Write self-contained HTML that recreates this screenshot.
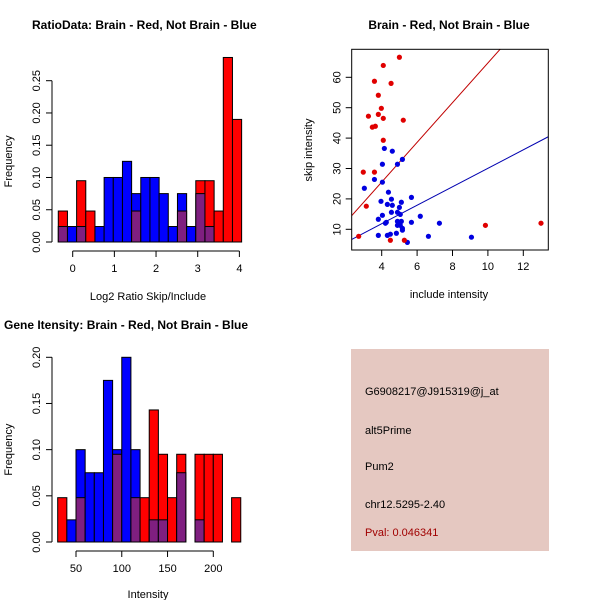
<!DOCTYPE html>
<html><head><meta charset="utf-8"><style>
html,body{margin:0;padding:0;background:#fff}
svg{display:block;font-family:"Liberation Sans",sans-serif}
</style></head><body>
<svg id="chart" width="600" height="600" viewBox="0 0 600 600">
<rect x="0" y="0" width="600" height="600" fill="#fff"/>
<g id="p1"></g>
<g id="p2"></g>
<g id="p3"></g>
<g id="p4">
<rect x="351" y="349" width="198" height="202" fill="#e5c8c1"/>
<text x="365" y="395" font-size="11" fill="#000">G6908217@J915319@j_at</text>
<text x="365" y="434" font-size="11" fill="#000">alt5Prime</text>
<text x="365" y="470" font-size="11" fill="#000">Pum2</text>
<text x="365" y="508" font-size="11" fill="#000">chr12.5295-2.40</text>
<text x="365" y="536" font-size="11" fill="#a00000">Pval: 0.046341</text>
</g>
</svg>
<script>
// Histogram 1 data (Log2 ratio)
const h1Start = -0.346, h1Width = 0.22;
const h1Red  = [0.048,0,0.095,0.048,0,0,0,0,0.048,0,0,0,0,0.048,0,0.095,0.095,0.048,0.286,0.19];
const h1Blue = [0.024,0.024,0.024,0,0.024,0.1,0.1,0.125,0.075,0.1,0.1,0.075,0.024,0.075,0.024,0.075,0.024,0,0,0];
const h1XTicks = [0,1,2,3,4];
const h1YTicks = ["0.00","0.05","0.10","0.15","0.20","0.25"];
// Histogram 3 data (Intensity)
const h3Start = 30, h3Width = 10;
const h3Red  = [0.048,0,0.048,0,0,0,0.095,0,0.048,0.048,0.143,0.095,0.048,0.095,0,0.095,0.095,0.095,0,0.048];
const h3Blue = [0,0.024,0.1,0.075,0.075,0.175,0.1,0.2,0.1,0,0.024,0.024,0,0.075,0,0.024,0,0,0,0];
const h3XTicks = [50,100,150,200];
const h3YTicks = ["0.00","0.05","0.10","0.15","0.20"];
// Scatter data
const redX = [5.0,4.09,3.59,4.53,3.81,3.98,3.81,3.25,4.09,5.22,3.64,3.47,4.09,2.96,3.59,3.13,2.70,4.49,5.28,9.86,13.0];
const redY = [66.6,63.9,58.7,58.0,54.1,49.8,47.8,47.2,46.5,45.9,43.9,43.6,39.3,28.8,28.8,17.6,7.7,6.4,6.4,11.3,12.0];
const blueX = [4.15,4.60,5.17,4.89,4.04,3.59,4.04,3.02,4.38,4.55,5.68,3.96,5.11,4.32,4.60,5.0,4.55,4.89,5.05,6.18,4.04,3.81,4.89,5.11,4.26,4.21,5.68,7.26,4.89,5.05,5.17,5.17,4.83,3.81,4.32,4.49,6.64,9.07,5.45];
const blueY = [36.6,35.7,33.0,31.4,31.4,26.4,25.5,23.5,22.2,19.9,20.5,19.2,18.9,18.2,17.9,17.2,15.6,15.6,14.9,14.3,14.6,13.3,12.6,12.6,12.3,12.0,12.3,12.0,11.3,11.3,10.3,9.7,8.7,8.0,8.0,8.4,7.7,7.4,5.7];
const redFit = [-0.58, 6.53];   // intercept, slope
const blueFit = [-0.33, 3.04];
const scXTicks = [4,6,8,10,12];
const scYTicks = [10,20,30,40,50,60];

const NS = "http://www.w3.org/2000/svg";
function mk(parent, tag, attrs, text){
  const e = document.createElementNS(NS, tag);
  for (const k in attrs) e.setAttribute(k, attrs[k]);
  if (text !== undefined) e.textContent = text;
  parent.appendChild(e); return e;
}

function histogram(g, start, width, red, blue, xs, ys, xT, yT, title, titleX, titleY, xlab, xlabY, labY0){
  const n = red.length;
  for (let i=0;i<n;i++){
    const x0 = xs(start+i*width), x1 = xs(start+(i+1)*width);
    const r = red[i], b = blue[i], m = Math.min(r,b);
    if (b>0 && b>=r){
      const bb = mk(g,'rect',{x:x0,y:ys(b),width:x1-x0,height:ys(0)-ys(b),fill:'#0000ff',stroke:'#000','stroke-width':1});
      
      
    }
    if (r>0 && r>b){
      const rb = mk(g,'rect',{x:x0,y:ys(r),width:x1-x0,height:ys(0)-ys(r),fill:'#ff0000',stroke:'#000','stroke-width':1});
      
      
    }
    if (m>0){
      const pb = mk(g,'rect',{x:x0,y:ys(m),width:x1-x0,height:ys(0)-ys(m),fill:'#7f1f80',stroke:'#000','stroke-width':1});
      
      
    }
  }
  // y axis
  const yv = yT.map(Number);
  const ya = mk(g,'line',{x1:52,x2:52,y1:ys(yv[0]),y2:ys(yv[yv.length-1]),stroke:'#000'});
  
  
  yT.forEach((t)=>{
    const y = ys(Number(t));
    mk(g,'line',{x1:46,x2:52,y1:y,y2:y,stroke:'#000'});
    const tl = mk(g,'text',{x:40,y:y,'font-size':11,'text-anchor':'middle',transform:`rotate(-90 40 ${y})`},t);
    
    
  });
  // x axis
  const axY = labY0;
  const xa = mk(g,'line',{x1:xs(xT[0]),x2:xs(xT[xT.length-1]),y1:axY,y2:axY,stroke:'#000'});
  
  
  xT.forEach(t=>{
    const x = xs(t);
    mk(g,'line',{x1:x,x2:x,y1:axY,y2:axY+6,stroke:'#000'});
    const tl = mk(g,'text',{x:x,y:axY+21,'font-size':11,'text-anchor':'middle'},String(t));
    
    
  });
  const tt = mk(g,'text',{x:titleX,y:titleY,'font-size':12,'font-weight':'bold'},title);
  
  
  const xl = mk(g,'text',{x:148,y:xlabY,'font-size':11,'text-anchor':'middle'},xlab);
  
  
  const cy = (ys(yv[0])+ys(yv[yv.length-1]))/2;
  const yl = mk(g,'text',{x:12,y:cy,'font-size':11,'text-anchor':'middle',transform:`rotate(-90 12 ${cy})`},'Frequency');
  
  
}

// Plot 1
(function(){
  const g = document.getElementById('p1');
  const xs = v => 72.7 + v*41.67;
  const ys = v => 242 - v*(242-80.7)/0.25;
  histogram(g,h1Start,h1Width,h1Red,h1Blue,xs,ys,h1XTicks,h1YTicks,
    'RatioData: Brain - Red, Not Brain - Blue',32,29,'Log2 Ratio Skip/Include',300,251);
})();
// Plot 3
(function(){
  const g = document.getElementById('p3');
  const xs = v => 76 + (v-50)*(213.3-76)/150;
  const ys = v => 542 - v*(542-357.3)/0.2;
  histogram(g,h3Start,h3Width,h3Red,h3Blue,xs,ys,h3XTicks,h3YTicks,
    'Gene Itensity: Brain - Red, Not Brain - Blue',4,329,'Intensity',598,551);
})();
// Scatter
(function(){
  const g = document.getElementById('p2');
  const L=351.7,R=548.3,T=49.3,B=250;
  const xs = v => 381.7 + (v-4)*(523.3-381.7)/8;
  const ys = v => 229.3 - (v-10)*(229.3-77.3)/50;
  const cp = mk(g,'clipPath',{id:'clip2'});
  mk(cp,'rect',{x:L,y:T,width:R-L,height:B-T});
  const xv0 = 4 + (L-381.7)/17.7, xv1 = 4 + (R-381.7)/17.7;
  [[redFit,'#c00000','red-fit-line'],[blueFit,'#0000b0','blue-fit-line']].forEach(([f,c,nm])=>{
    const ln = mk(g,'line',{x1:xs(xv0),y1:ys(f[0]+f[1]*xv0),x2:xs(xv1),y2:ys(f[0]+f[1]*xv1),stroke:c,'stroke-width':1,'clip-path':'url(#clip2)'});
    
    
  });
  blueX.forEach((x,i)=>{
    const p = mk(g,'circle',{cx:xs(x),cy:ys(blueY[i]),r:2.6,fill:'#0000e0'});
    
    
  });
  redX.forEach((x,i)=>{
    const p = mk(g,'circle',{cx:xs(x),cy:ys(redY[i]),r:2.6,fill:'#e00000'});
    
    
  });
  const box = mk(g,'rect',{x:L,y:T,width:R-L,height:B-T,fill:'none',stroke:'#000'});
  
  
  scXTicks.forEach(t=>{
    const x = xs(t);
    mk(g,'line',{x1:x,x2:x,y1:B,y2:B+6,stroke:'#000'});
    const tl = mk(g,'text',{x:x,y:B+20,'font-size':11,'text-anchor':'middle'},String(t));
    
    
  });
  scYTicks.forEach(t=>{
    const y = ys(t);
    mk(g,'line',{x1:L-6,x2:L,y1:y,y2:y,stroke:'#000'});
    const tl = mk(g,'text',{x:L-11,y:y,'font-size':11,'text-anchor':'middle',transform:`rotate(-90 ${L-11} ${y})`},String(t));
    
    
  });
  const tt = mk(g,'text',{x:449,y:29,'font-size':12,'font-weight':'bold','text-anchor':'middle'},'Brain - Red, Not Brain - Blue');
  
  
  const xl = mk(g,'text',{x:449,y:298,'font-size':11,'text-anchor':'middle'},'include intensity');
  
  
  const yl = mk(g,'text',{x:312,y:150,'font-size':11,'text-anchor':'middle',transform:'rotate(-90 312 150)'},'skip intensity');
  
  
})();
</script>
</body></html>
